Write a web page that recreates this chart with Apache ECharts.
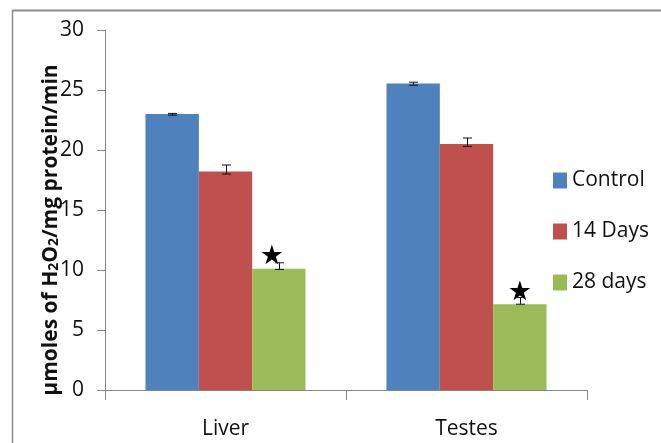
<!DOCTYPE html>
<html><head><meta charset="utf-8">
<script src="https://cdn.jsdelivr.net/npm/echarts@6/dist/echarts.min.js"></script>
<style>html,body{margin:0;padding:0;background:#fff}#c{width:661px;height:443px}</style>
</head><body><div id="c"></div>
<script>
const categories = ['Liver', 'Testes'];
const seriesNames = ['Control', '14 Days', '28 days'];
const controlValues = [23.0, 25.55];
const days14Values = [18.2, 20.5];
const days28Values = [10.1, 7.15];
const controlErr = [[22.9, 23.05], [25.4, 25.65]];
const days14Err = [[18.0, 18.75], [20.3, 21.0]];
const days28Err = [[10.05, 10.6], [7.15, 7.7]];
const significant = [true, true];
const yTicks = [0, 5, 10, 15, 20, 25, 30];

const colors = ['#4F81BD', '#C0504D', '#9BBB59'];
const FONT = '"Open Sans", "DejaVu Sans", sans-serif';
const GAP = 0.336;

const chart = echarts.init(document.getElementById('c'), null, {renderer: 'canvas'});

function errSeries(errs, idx) {
  return {
    type: 'custom',
    name: seriesNames[idx] + ' error',
    z: 5,
    silent: true,
    renderItem: function (params, api) {
      const cat = api.value(0);
      const lo = api.coord([cat, api.value(1)]);
      const hi = api.coord([cat, api.value(2)]);
      const band = api.size([1, 0])[0];
      const bw = band * (1 - GAP) / 3;
      const x = Math.round(lo[0] + (idx - 1) * bw) + 0.5;
      const hw = 4.5;
      const st = {stroke: '#111', lineWidth: 1, fill: null};
      return {
        type: 'group',
        children: [
          {type: 'line', shape: {x1: x, y1: lo[1], x2: x, y2: hi[1]}, style: st},
          {type: 'line', shape: {x1: x - hw, y1: lo[1], x2: x + hw, y2: lo[1]}, style: st},
          {type: 'line', shape: {x1: x - hw, y1: hi[1], x2: x + hw, y2: hi[1]}, style: st}
        ]
      };
    },
    data: errs.map((e, i) => [i, e[0], e[1]])
  };
}

const starOffsets = [[-7, 2], [0, 2]];

const option = {
  animation: false,
  backgroundColor: '#ffffff',
  color: colors,
  grid: {left: 105, right: 74, top: 30, bottom: 53, containLabel: false},
  legend: {
    orient: 'vertical',
    left: 553,
    top: 170,
    padding: 0,
    itemWidth: 14,
    itemHeight: 16,
    itemGap: 30,
    icon: 'rect',
    data: seriesNames,
    textStyle: {fontFamily: FONT, fontSize: 21, color: '#111', lineHeight: 20, padding: [0, 0, 0, 0]}
  },
  xAxis: {
    type: 'category',
    data: categories,
    axisLine: {lineStyle: {color: '#868686', width: 1}},
    axisTick: {show: true, length: 10, alignWithLabel: false, lineStyle: {color: '#868686'}},
    axisLabel: {fontFamily: FONT, fontSize: 21, color: '#111', margin: 29}
  },
  yAxis: {
    type: 'value',
    min: 0, max: 30, interval: 5,
    name: '{b|μmoles of H}{s|2}{b|O}{s|2}{b|/mg protein/min}',
    nameLocation: 'middle',
    nameGap: 43,
    nameRotate: 90,
    nameMoveOverlap: false,
    nameTextStyle: {
      padding: [0, 40, 0, 0],
      rich: {
        b: {fontFamily: FONT, fontSize: 21, fontWeight: 'bold', color: '#111'},
        s: {fontFamily: FONT, fontSize: 14, fontWeight: 'bold', color: '#111', padding: [6, 0, 0, 0]}
      }
    },
    splitLine: {show: false},
    axisLine: {show: true, lineStyle: {color: '#868686', width: 1}},
    axisTick: {show: true, length: 8, lineStyle: {color: '#868686'}},
    axisLabel: {
      fontFamily: FONT, fontSize: 21, color: '#111', margin: 21,
      formatter: function (v) { return yTicks.indexOf(v) >= 0 ? String(v) : ''; }
    }
  },
  graphic: [
    {type: 'line', shape: {x1: 12, y1: 10.5, x2: 661, y2: 10.5}, style: {stroke: '#8a8a8a', lineWidth: 2}, silent: true},
    {type: 'line', shape: {x1: 12.5, y1: 10, x2: 12.5, y2: 443}, style: {stroke: '#8a8a8a', lineWidth: 1.5}, silent: true}
  ],
  series: [
    {type: 'bar', name: seriesNames[0], data: controlValues, barGap: '0%', barCategoryGap: (GAP * 100) + '%', itemStyle: {color: colors[0]}},
    {type: 'bar', name: seriesNames[1], data: days14Values, barGap: '0%', barCategoryGap: (GAP * 100) + '%', itemStyle: {color: colors[1]}},
    {type: 'bar', name: seriesNames[2],
      data: days28Values.map((v, i) => ({
        value: v,
        label: {show: significant[i], offset: starOffsets[i]}
      })),
      barGap: '0%', barCategoryGap: (GAP * 100) + '%', itemStyle: {color: colors[2]},
      label: {position: 'top', distance: 0, formatter: '★', fontSize: 27, color: '#000', fontFamily: '"DejaVu Sans", sans-serif'}
    },
    errSeries(controlErr, 0),
    errSeries(days14Err, 1),
    errSeries(days28Err, 2)
  ]
};
chart.setOption(option);
</script>
</body></html>
